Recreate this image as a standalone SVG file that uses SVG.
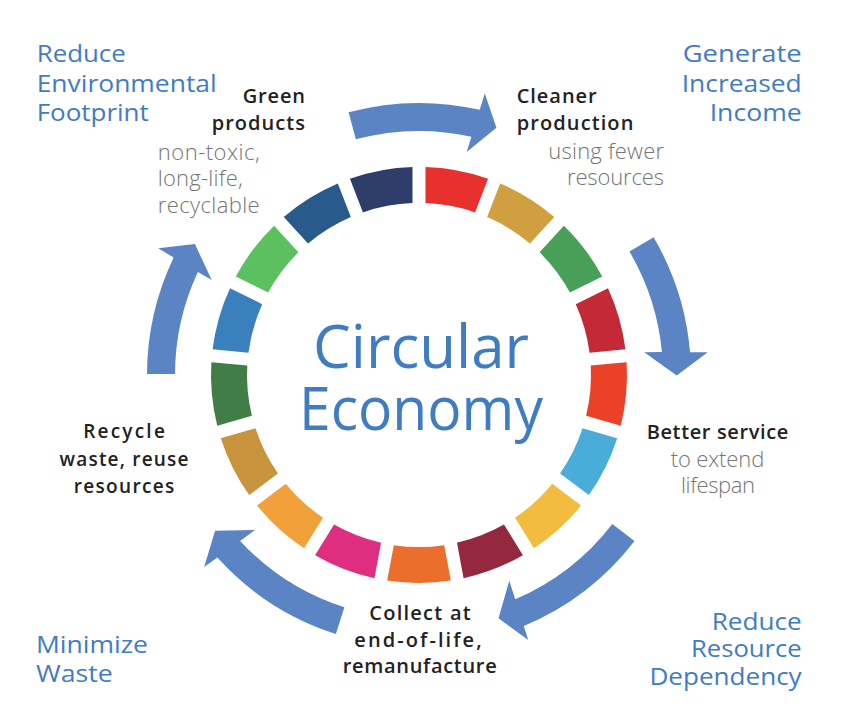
<svg xmlns="http://www.w3.org/2000/svg" xmlns:xlink="http://www.w3.org/1999/xlink" width="848" height="720" viewBox="0 0 848 720">
<style>
.goal{font-family:"Open Sans","Liberation Sans",sans-serif;font-size:24px;font-weight:400;fill:#3F7CC4}
.title{font-family:"Open Sans","Liberation Sans",sans-serif;font-size:20px;font-weight:600;fill:#222222}
.sub{font-family:"Open Sans","Liberation Sans",sans-serif;font-size:22px;font-weight:300;fill:#757575}
.center{font-family:"Open Sans","Liberation Sans",sans-serif;font-size:60px;font-weight:400;fill:#3F7CC4}
.arrow{fill:#5B84C4}
</style>
<defs>
<path id="seg" d="M425.5,167.1 A208,208 0 0 1 488.04,178.79 L475.02,212.38 A172,172 0 0 0 425.5,203.12 Z"/>
</defs>
<rect width="848" height="720" fill="#ffffff"/>
<g id="ring">
<use xlink:href="#seg" href="#seg" fill="#E8302F"/>
<use xlink:href="#seg" href="#seg" fill="#D0A040" transform="rotate(21.1765 419 375)"/>
<use xlink:href="#seg" href="#seg" fill="#48A058" transform="rotate(42.3529 419 375)"/>
<use xlink:href="#seg" href="#seg" fill="#C32A35" transform="rotate(63.5294 419 375)"/>
<use xlink:href="#seg" href="#seg" fill="#EA4128" transform="rotate(84.7059 419 375)"/>
<use xlink:href="#seg" href="#seg" fill="#4AACD8" transform="rotate(105.8824 419 375)"/>
<use xlink:href="#seg" href="#seg" fill="#F3BC3E" transform="rotate(127.0588 419 375)"/>
<use xlink:href="#seg" href="#seg" fill="#93283F" transform="rotate(148.2353 419 375)"/>
<use xlink:href="#seg" href="#seg" fill="#EB6E2D" transform="rotate(169.4118 419 375)"/>
<use xlink:href="#seg" href="#seg" fill="#DF2E80" transform="rotate(190.5882 419 375)"/>
<use xlink:href="#seg" href="#seg" fill="#F2A03A" transform="rotate(211.7647 419 375)"/>
<use xlink:href="#seg" href="#seg" fill="#C9923D" transform="rotate(232.9412 419 375)"/>
<use xlink:href="#seg" href="#seg" fill="#417E47" transform="rotate(254.1176 419 375)"/>
<use xlink:href="#seg" href="#seg" fill="#3A80BF" transform="rotate(275.2941 419 375)"/>
<use xlink:href="#seg" href="#seg" fill="#5CC060" transform="rotate(296.4706 419 375)"/>
<use xlink:href="#seg" href="#seg" fill="#285B8C" transform="rotate(317.6471 419 375)"/>
<use xlink:href="#seg" href="#seg" fill="#2F3D6B" transform="rotate(338.8235 419 375)"/>
</g>
<g id="center-title">
<text class="center" x="421" y="368" text-anchor="middle" textLength="216" lengthAdjust="spacingAndGlyphs">Circular</text>
<text class="center" x="421" y="430" text-anchor="middle" textLength="244" lengthAdjust="spacingAndGlyphs">Economy</text>
</g>
<g id="connectors">
<path class="arrow" d="M348.60,112.27 A272,272 0 0 1 479.74,109.87 L484.79,93.59 L496.45,127.85 L466.64,152.03 L471.40,136.69 A244,244 0 0 0 355.85,139.31 Z"/>
<path class="arrow" d="M653.60,237.36 A272,272 0 0 1 690.05,352.24 L707.71,352.28 L676.7,375.5 L644.26,352.32 L661.94,352.04 A244,244 0 0 0 629.45,251.53 Z"/>
<path class="arrow" d="M634.50,540.96 A272,272 0 0 1 523.76,626.01 L528.25,640.07 L498.53,618.33 L509.28,580.66 L515.21,599.23 A244,244 0 0 0 612.32,523.88 Z"/>
<path class="arrow" d="M335.85,633.98 A272,272 0 0 1 217.33,557.52 L204.15,567.09 L215.07,530.75 L255.06,530.12 L240.13,540.96 A244,244 0 0 0 344.41,607.32 Z"/>
<path class="arrow" d="M147,374 A272,272 0 0 1 173.67,257.54 L158.22,248.37 L194.95,244.07 L211.69,280.09 L197.86,271.88 A244,244 0 0 0 175,374 Z"/>
</g>
<g id="goal-footprint">
<text class="goal" x="36.7" y="62.3" textLength="89" lengthAdjust="spacingAndGlyphs">Reduce</text>
<text class="goal" x="36.7" y="91.7" textLength="180" lengthAdjust="spacingAndGlyphs">Environmental</text>
<text class="goal" x="36.7" y="120.7" textLength="112" lengthAdjust="spacingAndGlyphs">Footprint</text>
</g>
<g id="goal-income">
<text class="goal" x="801.7" y="62.3" text-anchor="end" textLength="119" lengthAdjust="spacingAndGlyphs">Generate</text>
<text class="goal" x="801.7" y="91.7" text-anchor="end" textLength="120" lengthAdjust="spacingAndGlyphs">Increased</text>
<text class="goal" x="801.7" y="120.7" text-anchor="end" textLength="92" lengthAdjust="spacingAndGlyphs">Income</text>
</g>
<g id="goal-waste">
<text class="goal" x="36" y="653.3" textLength="112" lengthAdjust="spacingAndGlyphs">Minimize</text>
<text class="goal" x="36" y="681.7" textLength="76.7" lengthAdjust="spacingAndGlyphs">Waste</text>
</g>
<g id="goal-dependency">
<text class="goal" x="801.7" y="629.5" text-anchor="end" textLength="90" lengthAdjust="spacingAndGlyphs">Reduce</text>
<text class="goal" x="801.7" y="657" text-anchor="end" textLength="110.7" lengthAdjust="spacingAndGlyphs">Resource</text>
<text class="goal" x="801.7" y="684.5" text-anchor="end" textLength="152.3" lengthAdjust="spacingAndGlyphs">Dependency</text>
</g>
<g id="step-green">
<text class="title" x="305" y="102.7" text-anchor="end" textLength="62.3">Green</text>
<text class="title" x="305" y="130" text-anchor="end" textLength="93.3">products</text>
<text class="sub" x="157.7" y="160" textLength="102">non-toxic,</text>
<text class="sub" x="157.7" y="186" textLength="85">long-life,</text>
<text class="sub" x="157.7" y="212.5" textLength="102">recyclable</text>
</g>
<g id="step-cleaner">
<text class="title" x="516.7" y="102.7" textLength="80">Cleaner</text>
<text class="title" x="516.7" y="130" textLength="116.7">production</text>
<text class="sub" x="664" y="159.3" text-anchor="end" textLength="115.7">using fewer</text>
<text class="sub" x="664" y="185" text-anchor="end" textLength="97">resources</text>
</g>
<g id="step-service">
<text class="title" x="717.5" y="438.5" text-anchor="middle" textLength="141.7">Better service</text>
<text class="sub" x="717.5" y="466.7" text-anchor="middle" textLength="93.6">to extend</text>
<text class="sub" x="718" y="493" text-anchor="middle" textLength="74">lifespan</text>
</g>
<g id="step-collect">
<text class="title" x="420" y="620" text-anchor="middle" textLength="101.3">Collect at</text>
<text class="title" x="418" y="647.3" text-anchor="middle" textLength="127.3">end-of-life,</text>
<text class="title" x="419.7" y="673.3" text-anchor="middle" textLength="154">remanufacture</text>
</g>
<g id="step-recycle">
<text class="title" x="124" y="438.3" text-anchor="middle" textLength="81.7" style="font-size:19px">Recycle</text>
<text class="title" x="124" y="466" text-anchor="middle" textLength="129" style="font-size:19px">waste, reuse</text>
<text class="title" x="124" y="492.7" text-anchor="middle" textLength="100.7" style="font-size:19px">resources</text>
</g>
</svg>
